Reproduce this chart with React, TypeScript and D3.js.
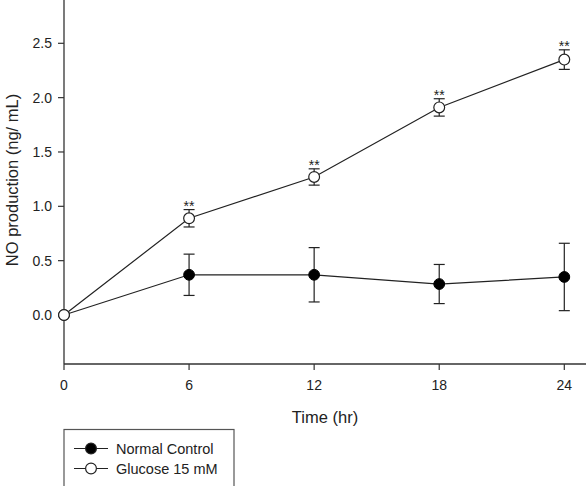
import * as d3 from "d3";

// NO production over time, mean ± SD
const hours = [0, 6, 12, 18, 24];
const controlMean = [0, 0.37, 0.37, 0.285, 0.35];
const controlErr = [0, 0.19, 0.25, 0.18, 0.31];
const glucoseMean = [0, 0.89, 1.27, 1.91, 2.35];
const glucoseErr = [0, 0.08, 0.075, 0.08, 0.09];
const glucoseSig = ["", "**", "**", "**", "**"];
const xTicks = [0, 6, 12, 18, 24];
const yTicks = [0, 0.5, 1.0, 1.5, 2.0, 2.5];
const seriesNames = ["Normal Control", "Glucose 15 mM"];

const W = 586;
const H = 486;
const font = "'Liberation Sans', Arial, sans-serif";

export default function App() {
  const x = d3.scaleLinear().domain([0, 24]).range([64, 564.3]);
  const y = d3.scaleLinear().domain([0, 2.5]).range([315, 43.3]);
  const axisY = 364;
  const axisX = 64;

  const line = d3
    .line<number>()
    .x((_, i) => x(hours[i]))
    .y((d) => y(d));

  const errBars = (means: number[], errs: number[], key: string) =>
    means.map((m, i) =>
      errs[i] > 0 ? (
        <g key={key + i} stroke="#222" strokeWidth={1.2} fill="none">
          <line x1={x(hours[i])} x2={x(hours[i])} y1={y(m + errs[i])} y2={y(m - errs[i])} />
          <line x1={x(hours[i]) - 5.5} x2={x(hours[i]) + 5.5} y1={y(m + errs[i])} y2={y(m + errs[i])} />
          <line x1={x(hours[i]) - 5.5} x2={x(hours[i]) + 5.5} y1={y(m - errs[i])} y2={y(m - errs[i])} />
        </g>
      ) : null
    );

  return (
    <svg
      width={W}
      height={H}
      style={{ position: "absolute", left: 0, top: 0, background: "#fff" }}
      fontFamily={font}
    >
      {/* axes */}
      <line x1={axisX} x2={axisX} y1={0} y2={axisY} stroke="#333" strokeWidth={1.3} />
      <line x1={axisX} x2={W} y1={axisY} y2={axisY} stroke="#333" strokeWidth={1.3} />
      {yTicks.map((t) => (
        <g key={"y" + t}>
          <line x1={axisX - 6} x2={axisX} y1={y(t)} y2={y(t)} stroke="#333" strokeWidth={1.2} />
          <text x={axisX - 12} y={y(t)} dy="0.36em" textAnchor="end" fontSize={14} fill="#222">
            {d3.format(".1f")(t)}
          </text>
        </g>
      ))}
      {xTicks.map((t) => (
        <g key={"x" + t}>
          <line x1={x(t)} x2={x(t)} y1={axisY} y2={axisY + 6} stroke="#333" strokeWidth={1.2} />
          <text x={x(t)} y={385} dy="0.36em" textAnchor="middle" fontSize={14} fill="#222">
            {t}
          </text>
        </g>
      ))}
      <text x={325} y={417.5} dy="0.36em" textAnchor="middle" fontSize={16.5} fill="#222">
        Time (hr)
      </text>
      <text
        transform={`translate(18,180) rotate(-90)`}
        textAnchor="middle"
        fontSize={16.5}
        fill="#222"
      >
        NO production (ng/ mL)
      </text>

      {/* series */}
      <path d={line(controlMean) ?? ""} fill="none" stroke="#222" strokeWidth={1.2} />
      <path d={line(glucoseMean) ?? ""} fill="none" stroke="#222" strokeWidth={1.2} />
      {errBars(controlMean, controlErr, "ce")}
      {errBars(glucoseMean, glucoseErr, "ge")}
      {controlMean.map((m, i) => (
        <circle key={"c" + i} cx={x(hours[i])} cy={y(m)} r={5.4} fill="#000" stroke="#000" />
      ))}
      {glucoseMean.map((m, i) => (
        <circle key={"g" + i} cx={x(hours[i])} cy={y(m)} r={5.4} fill="#fff" stroke="#222" strokeWidth={1.2} />
      ))}
      {glucoseMean.map((m, i) =>
        glucoseSig[i] ? (
          <text
            key={"s" + i}
            x={x(hours[i])}
            y={y(m + glucoseErr[i]) + 1}
            textAnchor="middle"
            fontSize={14}
            fill="#222"
          >
            {glucoseSig[i]}
          </text>
        ) : null
      )}

      {/* legend */}
      <rect x={64} y={429.5} width={170} height={70} fill="#fff" stroke="#555" strokeWidth={1.2} />
      {seriesNames.map((name, i) => {
        const cy = 448.5 + i * 20;
        return (
          <g key={name}>
            <line x1={74} x2={108} y1={cy} y2={cy} stroke="#222" strokeWidth={1.2} />
            <circle
              cx={91}
              cy={cy}
              r={5.4}
              fill={i === 0 ? "#000" : "#fff"}
              stroke="#222"
              strokeWidth={1.2}
            />
            <text x={116} y={cy} dy="0.36em" fontSize={14.5} fill="#222">
              {name}
            </text>
          </g>
        );
      })}
    </svg>
  );
}
